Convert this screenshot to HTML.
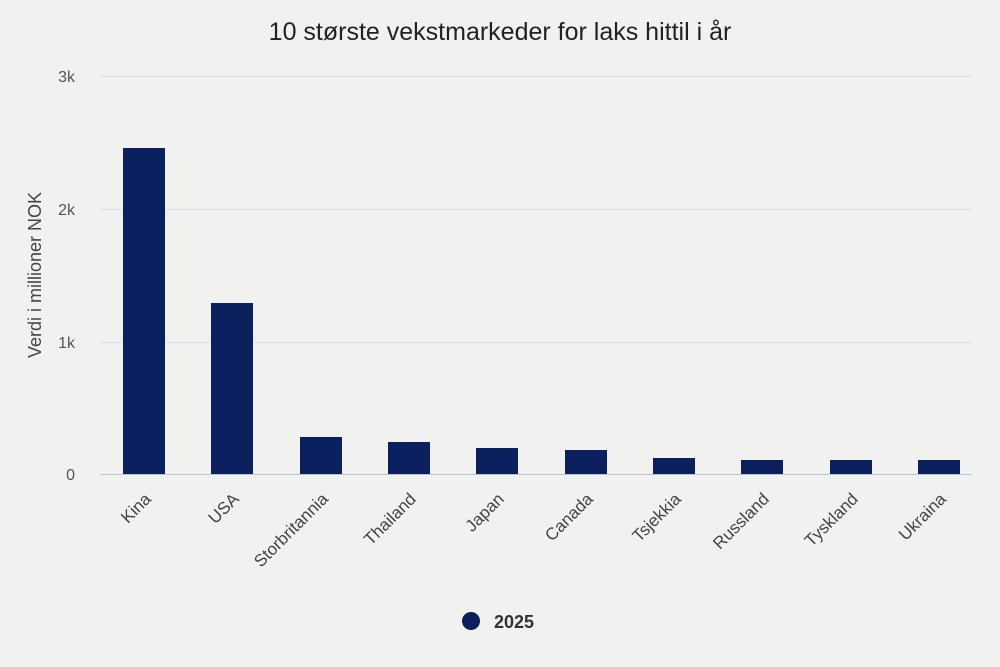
<!DOCTYPE html>
<html><head><meta charset="utf-8"><style>
html,body{margin:0;padding:0;background:#f1f2f0;}
svg{display:block;font-family:"Liberation Sans",sans-serif;}
</style></head><body>
<svg width="1000" height="667" viewBox="0 0 1000 667">
<rect width="1000" height="667" fill="#f1f2f0"/>
<text x="500" y="40" text-anchor="middle" font-size="25" fill="#222">10 største vekstmarkeder for laks hittil i år</text>
<g stroke="#dcdee0" stroke-width="1">
<line x1="100" y1="76.5" x2="972" y2="76.5"/>
<line x1="100" y1="209.5" x2="972" y2="209.5"/>
<line x1="100" y1="342.5" x2="972" y2="342.5"/>
</g>
<line x1="100" y1="474.5" x2="972" y2="474.5" stroke="#b8c4de" stroke-width="1"/>
<g font-size="16" fill="#555" text-anchor="end">
<text x="75" y="82">3k</text>
<text x="75" y="215">2k</text>
<text x="75" y="348">1k</text>
<text x="75" y="480">0</text>
</g>
<text transform="translate(41,275) rotate(-90)" text-anchor="middle" font-size="18" fill="#444">Verdi i millioner NOK</text>
<g fill="#0c1f5e">
<rect x="123" y="148" width="42" height="326"/>
<rect x="211" y="303" width="42" height="171"/>
<rect x="300" y="437" width="42" height="37"/>
<rect x="388" y="442" width="42" height="32"/>
<rect x="476" y="448" width="42" height="26"/>
<rect x="565" y="450" width="42" height="24"/>
<rect x="653" y="458" width="42" height="16"/>
<rect x="741" y="460" width="42" height="14"/>
<rect x="830" y="460" width="42" height="14"/>
<rect x="918" y="460" width="42" height="14"/>
</g>
<g font-size="17" fill="#444" text-anchor="end">
<text transform="translate(152,500) rotate(-45)">Kina</text>
<text transform="translate(240,500) rotate(-45)">USA</text>
<text transform="translate(329,500) rotate(-45)">Storbritannia</text>
<text transform="translate(417,500) rotate(-45)">Thailand</text>
<text transform="translate(505,500) rotate(-45)">Japan</text>
<text transform="translate(594,500) rotate(-45)">Canada</text>
<text transform="translate(682,500) rotate(-45)">Tsjekkia</text>
<text transform="translate(770,500) rotate(-45)">Russland</text>
<text transform="translate(859,500) rotate(-45)">Tyskland</text>
<text transform="translate(947,500) rotate(-45)">Ukraina</text>
</g>
<circle cx="471" cy="621" r="9" fill="#0c1f5e"/>
<text x="494" y="628" font-size="18" font-weight="bold" fill="#333">2025</text>
</svg>
</body></html>
